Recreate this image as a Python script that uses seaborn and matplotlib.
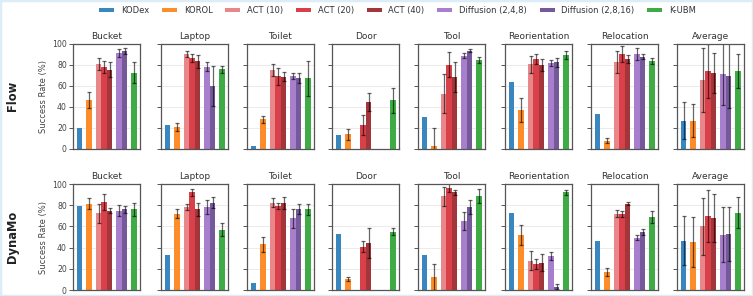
import numpy as np
import pandas as pd
import matplotlib
matplotlib.use("Agg")
import matplotlib.pyplot as plt
from matplotlib.patches import Patch, Rectangle
import seaborn as sns

tasks = ["Bucket", "Laptop", "Toilet", "Door", "Tool", "Reorientation", "Relocation", "Average"]
methods = ["KODex", "KOROL", "ACT (10)", "ACT (20)", "ACT (40)",
           "Diffusion (2,4,8)", "Diffusion (2,8,16)", "K-UBM"]
rows = ["Flow", "DynaMo"]
nan = np.nan

# ---- Flow ----
flow_kodex = [20, 23, 3, 13, 30, 63.5, 33, 27]
flow_kodex_err = [nan, nan, nan, nan, nan, nan, nan, 17.5]
flow_korol = [46.5, 21, 28, 14, 3, 37, 8, 27]
flow_korol_err = [8, 3.5, 3, 5, 17, 11, 2.5, 15.5]
flow_act10 = [80.5, 90, 75, 0, 52.5, 80.5, 82.5, 65.5]
flow_act10_err = [6, 3, 6, nan, 18.5, 8, 10, 30.5]
flow_act20 = [77.5, 86.5, 69, 23, 80, 85.5, 90, 74]
flow_act20_err = [5.5, 4, 8, 9.5, 12, 5, 8, 26]
flow_act40 = [75, 83, 68.5, 44.5, 68, 79.5, 85.5, 72]
flow_act40_err = [7, 6, 4.5, 8.5, 14, 5.5, 4, 19]
flow_diff1 = [91, 78, 69, 0, 88.5, 81.5, 90, 71.5]
flow_diff1_err = [3.5, 4, 3, nan, 2.5, 2.5, 6, 30]
flow_diff2 = [93, 60, 67.5, 0, 93, 82, 87.5, 69.5]
flow_diff2_err = [2.5, 19, 5, nan, 1.5, 4, 2.5, 31]
flow_kubm = [72.5, 75.5, 67, 46, 84.5, 89, 83.5, 74]
flow_kubm_err = [10, 3.5, 16.5, 12, 3, 3.5, 3, 16]

# ---- DynaMo ----
dyn_kodex = [79.5, 33, 6.5, 53, 33, 73, 46.5, 46.5]
dyn_kodex_err = [nan, nan, nan, nan, nan, nan, nan, 23]
dyn_korol = [81.5, 72, 43, 10.5, 12.5, 52, 17, 45.5]
dyn_korol_err = [5, 4, 7, 2, 12.5, 9.5, 4, 23.5]
dyn_act10 = [72.5, 78.5, 82.5, 0, 88.5, 27.5, 72, 60]
dyn_act10_err = [9, 3, 4, nan, 9, 9, 3.5, 27]
dyn_act20 = [83, 92, 79, 41, 96.5, 24.5, 72, 70]
dyn_act20_err = [7.5, 3.5, 3, 5, 4.5, 4.5, 3, 24.5]
dyn_act40 = [75, 76, 82, 44.5, 92, 25.5, 81.5, 68]
dyn_act40_err = [2.5, 6.5, 5.5, 14, 2, 8, 1.5, 23]
dyn_diff1 = [75, 78.5, 67.5, 0, 65, 32, 49.5, 52]
dyn_diff1_err = [5, 6.5, 9, nan, 8.5, 4, 2.5, 26]
dyn_diff2 = [76, 82.5, 76.5, 0, 78.5, 3, 55, 52.5]
dyn_diff2_err = [3.5, 5, 5, nan, 6.5, 2.5, 3, 25.5]
dyn_kubm = [76, 57, 76, 55, 88.5, 92, 69, 73]
dyn_kubm_err = [6, 6.5, 5, 3.5, 6.5, 2.5, 6, 14.5]

values = {
    "Flow": [flow_kodex, flow_korol, flow_act10, flow_act20, flow_act40, flow_diff1, flow_diff2, flow_kubm],
    "DynaMo": [dyn_kodex, dyn_korol, dyn_act10, dyn_act20, dyn_act40, dyn_diff1, dyn_diff2, dyn_kubm],
}
errors = {
    "Flow": [flow_kodex_err, flow_korol_err, flow_act10_err, flow_act20_err, flow_act40_err,
             flow_diff1_err, flow_diff2_err, flow_kubm_err],
    "DynaMo": [dyn_kodex_err, dyn_korol_err, dyn_act10_err, dyn_act20_err, dyn_act40_err,
               dyn_diff1_err, dyn_diff2_err, dyn_kubm_err],
}

records = []
for r in rows:
    for mi, m in enumerate(methods):
        for ti, t in enumerate(tasks):
            records.append(dict(row=r, task=t, method=m,
                                value=values[r][mi][ti], err=errors[r][mi][ti]))
df = pd.DataFrame(records)

# layout (not data): bar slot of each method inside a panel
slot = dict(zip(methods, [0, 1.7, 3.4, 4.4, 5.4, 7.1, 8.1, 9.8]))
df["pos"] = df["method"].map(slot)

colors = ["#3a87c0", "#fd8d2a", "#e8868a", "#d9404a", "#a3363a", "#a87fcc", "#76599a", "#3eab45"]
palette = dict(zip(methods, colors))

sns.set_style("whitegrid")
plt.rcParams["font.family"] = ["DejaVu Sans"]

fig = plt.figure(figsize=(7.53, 2.96), dpi=100)
W, H = 753, 296
lefts = [73, 161, 247, 332, 418, 505, 591, 677]
aw = 67
row_box = {"Flow": (43.5, 149), "DynaMo": (184, 290)}

for r in rows:
    top, bot = row_box[r]
    for ti, t in enumerate(tasks):
        ax = fig.add_axes([lefts[ti] / W, 1 - bot / H, aw / W, (bot - top) / H])
        sub = df[(df.row == r) & (df.task == t)]
        sns.barplot(data=sub, x="pos", y="value", hue="method", hue_order=methods,
                    palette=palette, native_scale=True, dodge=False, width=1.0,
                    errorbar=None, saturation=1, legend=False, ax=ax, linewidth=0)
        e = sub.dropna(subset=["err"])
        ax.errorbar(e["pos"], e["value"], yerr=e["err"], fmt="none",
                    ecolor=(0, 0, 0, 0.6), elinewidth=0.9, capsize=1.6, capthick=0.9)
        ax.set_xlim(-1.2, 10.85)
        ax.set_ylim(0, 100)
        ax.set_yticks([0, 20, 40, 60, 80, 100])
        ax.set_xticks([])
        ax.set_xlabel("")
        ax.grid(axis="x", visible=False)
        ax.grid(axis="y", color="#ebebeb", linewidth=0.7)
        ax.set_title(t, fontsize=6.5, color="#333333", pad=3.5)
        for s in ax.spines.values():
            s.set_visible(True)
            s.set_color("#555555")
            s.set_linewidth(0.9)
        ax.tick_params(axis="y", left=True, length=3, width=0.7, color="#555555",
                       labelsize=5.6, labelcolor="#444444", pad=1.5)
        if ti == 0:
            ax.set_ylabel("Success Rate (%)", fontsize=6, color="#444444", labelpad=3)
        else:
            ax.set_ylabel("")
            ax.set_yticklabels([])

fig.text(0.017, 1 - 96 / H, "Flow", rotation=90, ha="center", va="center",
         fontsize=8.3, fontweight="bold", color="#222222")
fig.text(0.017, 1 - 237 / H, "DynaMo", rotation=90, ha="center", va="center",
         fontsize=8.3, fontweight="bold", color="#222222")

handles = [Patch(facecolor=palette[m], edgecolor="none", label=m) for m in methods]
fig.legend(handles=handles, loc="upper center", bbox_to_anchor=(0.528, 1.005), ncol=8,
           frameon=False, fontsize=6.0, handlelength=1.8, handleheight=0.5,
           handletextpad=0.8, columnspacing=1.55, labelcolor="#333333")

fig.add_artist(Rectangle((0, 0), 1, 1, transform=fig.transFigure, fill=False,
                         edgecolor="#dcedf7", linewidth=2.5))

fig.savefig("out.png", dpi=100)
